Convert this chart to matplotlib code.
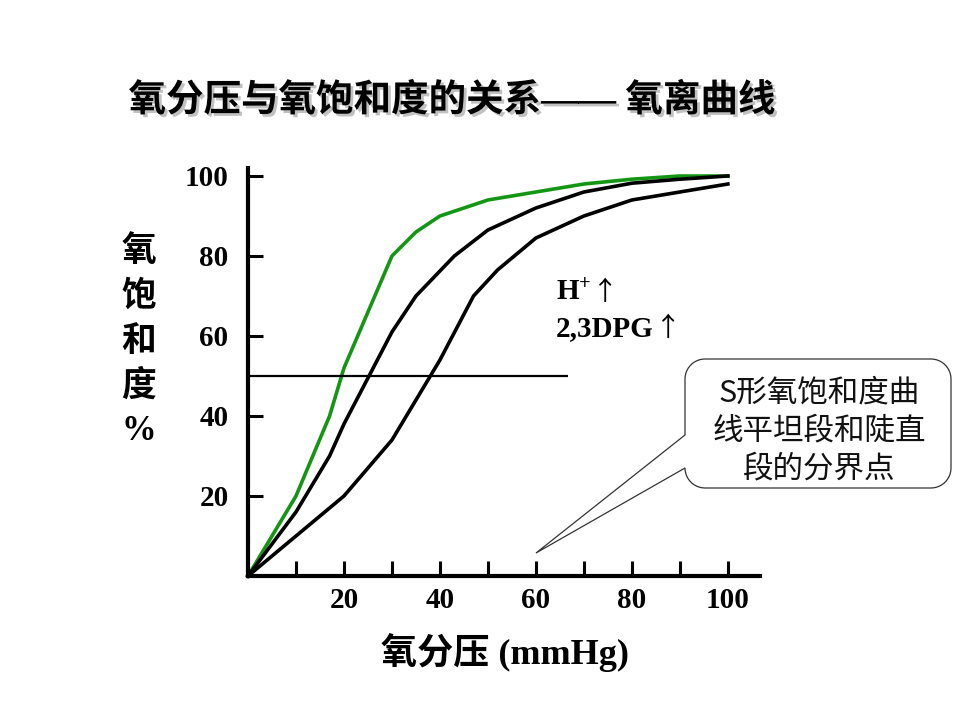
import numpy as np
import matplotlib
matplotlib.use("Agg")
import matplotlib.pyplot as plt
import matplotlib.patheffects as pe
from matplotlib.patches import Polygon

plt.rcParams['mathtext.fontset'] = 'custom'
plt.rcParams['mathtext.rm'] = 'Liberation Serif:bold'
plt.rcParams['mathtext.it'] = 'Liberation Serif:bold'
plt.rcParams['mathtext.bf'] = 'Liberation Serif:bold'

SERIF = ['Liberation Serif', 'Noto Sans CJK SC', 'DejaVu Sans']
CJK   = ['Noto Sans CJK SC', 'DejaVu Sans']
GREEN = "#149614"

# curves (PO2 mmHg -> saturation %)
green_x = [0, 10, 17, 20, 30, 35, 40, 50, 60, 70, 80, 90, 100]
green_y = [0, 20, 40, 52, 80, 86, 90, 94, 96, 98, 99.2, 100, 100]
mid_x   = [0, 10, 17, 20, 30, 35, 43, 50, 60, 70, 80, 90, 100]
mid_y   = [0, 16, 30, 38, 61, 70, 80, 86.5, 92, 96, 98.2, 99.2, 100]
right_x = [0, 20, 30, 40, 47, 52, 60, 70, 80, 90, 100]
right_y = [0, 20, 34, 54, 70, 76.5, 84.5, 90, 94, 96, 98]
half_sat = 50
half_line_end = 66.7

x_ticks = [10, 20, 30, 40, 50, 60, 70, 80, 90, 100]
y_ticks = [20, 40, 60, 80, 100]

title   = "氧分压与氧饱和度的关系—— 氧离曲线"
xlabel  = "氧分压 (mmHg)"
ylabel  = ["氧", "饱", "和", "度", "%"]
notes   = ["H$^{\\mathbf{+}}$", "2,3DPG"]
arrow   = "↑"
callout = "S形氧饱和度曲\n线平坦段和陡直\n段的分界点"

W, H = 960, 720


def px(x, y):
    return (x / W, 1 - y / H)


def callout_poly(l, t, r, b, rad, tail_top, tail_bot, tip, n=12):
    pts = [(l, tail_top)]
    corners = [((l + rad, t + rad), np.pi, 1.5 * np.pi),
               ((r - rad, t + rad), 1.5 * np.pi, 2 * np.pi),
               ((r - rad, b - rad), 0, 0.5 * np.pi),
               ((l + rad, b - rad), 0.5 * np.pi, np.pi)]
    for (cx, cy), a0, a1 in corners:
        for a in np.linspace(a0, a1, n):
            pts.append((cx + rad * np.cos(a), cy + rad * np.sin(a)))
    pts.append((l, tail_bot))
    pts.append(tip)
    return [px(x, y) for x, y in pts]


def main():
    fig = plt.figure(figsize=(9.6, 7.2), dpi=100)
    ax = fig.add_axes([248 / W, 1 - 576 / H, 512 / W, 408 / H])

    ax.plot(green_x, green_y, color=GREEN, lw=2.6, clip_on=False)
    ax.plot(mid_x, mid_y, color='black', lw=2.6, clip_on=False)
    ax.plot(right_x, right_y, color='black', lw=2.6, clip_on=False)
    ax.hlines(half_sat, 0, half_line_end, color='black', lw=1.6)

    ax.set_xlim(0, 106.7)
    ax.set_ylim(0, 102)
    for s in ('top', 'right'):
        ax.spines[s].set_visible(False)
    for s in ('left', 'bottom'):
        ax.spines[s].set_linewidth(3)

    ax.set_xticks(x_ticks)
    ax.set_xticklabels([str(v) if v % 20 == 0 else '' for v in x_ticks])
    ax.set_yticks(y_ticks)
    ax.set_yticklabels([str(v) for v in y_ticks])
    ax.tick_params(direction='in', length=11, width=2.2, color='black')
    ax.tick_params(axis='x', pad=8)
    ax.tick_params(axis='y', pad=14)
    for lab in ax.get_xticklabels() + ax.get_yticklabels():
        lab.set_fontfamily(SERIF)
        lab.set_fontweight('bold')
        lab.set_fontsize(21)

    for note, yv in zip(notes, [71, 61.8]):
        t = ax.text(64.2, yv, note, family=SERIF, fontweight='bold', fontsize=21,
                    ha='left', va='center')
        ax.annotate(arrow, xy=(1, 0.5), xycoords=t, xytext=(0.5, 0),
                    textcoords='offset points', family=CJK, fontsize=19,
                    ha='left', va='center')

    fig.text(*px(452, 101), title, family=SERIF, fontweight='bold', fontsize=27,
             ha='center', va='center',
             path_effects=[pe.withSimplePatchShadow(offset=(2, -2),
                                                    shadow_rgbFace='#999999', alpha=0.6)])
    fig.text(*px(505, 652), xlabel, family=SERIF, fontweight='bold', fontsize=26,
             ha='center', va='center')
    for i, ch in enumerate(ylabel):
        fig.text(*px(139, 252 + 45 * i), ch, family=SERIF, fontweight='bold',
                 fontsize=25, ha='center', va='center')

    poly = Polygon(callout_poly(685, 359, 951, 488, 20, 435, 468, (536, 553)),
                   closed=True, transform=fig.transFigure, facecolor='white',
                   edgecolor='#333333', lw=0.9)
    fig.patches.append(poly)
    fig.text(*px(819, 431), callout, family=CJK, fontsize=22, ha='center',
             va='center', linespacing=1.3, color='#111111')

    fig.savefig("out.png", dpi=100)


if __name__ == "__main__":
    main()
